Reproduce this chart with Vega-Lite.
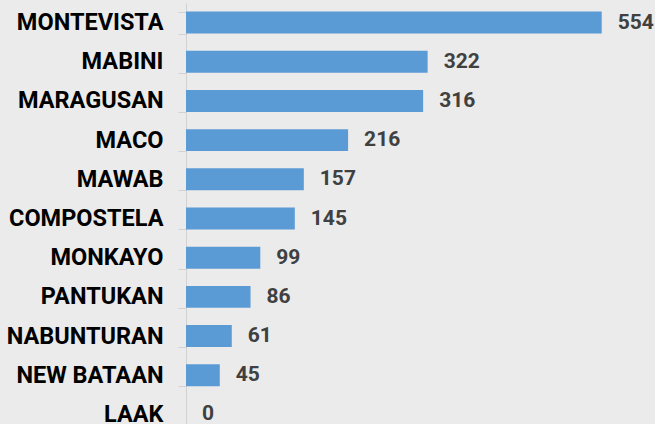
{
  "$schema": "https://vega.github.io/schema/vega-lite/v6.json",
  "width": 469,
  "height": 431,
  "autosize": {"type": "none"},
  "padding": {"left": 186, "top": 3, "right": 0, "bottom": 0},
  "background": "#ebebeb",
  "config": {"view": {"stroke": null}},
  "data": {
    "values": [
      {"name": "MONTEVISTA", "value": 554},
      {"name": "MABINI", "value": 322},
      {"name": "MARAGUSAN", "value": 316},
      {"name": "MACO", "value": 216},
      {"name": "MAWAB", "value": 157},
      {"name": "COMPOSTELA", "value": 145},
      {"name": "MONKAYO", "value": 99},
      {"name": "PANTUKAN", "value": 86},
      {"name": "NABUNTURAN", "value": 61},
      {"name": "NEW BATAAN", "value": 45},
      {"name": "LAAK", "value": 0}
    ]
  },
  "encoding": {
    "y": {
      "field": "name",
      "type": "nominal",
      "sort": null,
      "scale": {"paddingInner": 0.44, "paddingOuter": 0.22},
      "axis": {
        "title": null,
        "domainColor": "#d2d2d2",
        "tickColor": "#d2d2d2",
        "tickSize": 8,
        "labelPadding": 15,
        "labelFont": "Roboto",
        "labelFontWeight": "bold",
        "labelFontSize": 23.5,
        "labelColor": "#000000",
        "tickBand": "extent",
        "labelLimit": 300
      }
    },
    "x": {
      "field": "value",
      "type": "quantitative",
      "scale": {"domain": [0, 625]},
      "axis": null
    }
  },
  "layer": [
    {"mark": {"type": "bar", "color": "#5b9bd5"}},
    {
      "mark": {"type": "text", "align": "left", "dx": 16, "font": "Roboto", "fontWeight": "bold", "fontSize": 21, "color": "#404040"},
      "encoding": {"text": {"field": "value", "type": "quantitative"}}
    }
  ]
}
